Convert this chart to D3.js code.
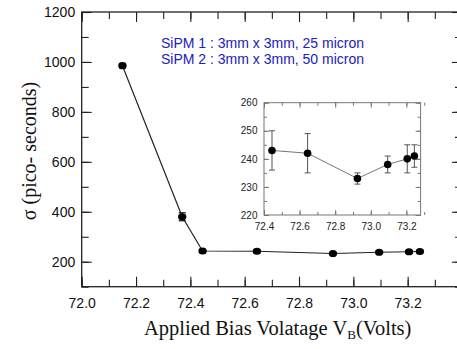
<!DOCTYPE html>
<html>
<head>
<meta charset="utf-8">
<script src="https://cdn.jsdelivr.net/npm/d3@7/dist/d3.min.js"></script>
<style>
  body { margin: 0; background: #fff; }
  svg { display: block; }
</style>
</head>
<body>
<div class="chart"></div>
<script>
// bias voltage (V) and timing resolution sigma (ps)
const biasVolts = [72.15, 72.37, 72.445, 72.645, 72.925, 73.095, 73.205, 73.245];
const sigmaPs = [985, 380, 243, 242, 233, 238, 240, 241];
const sigmaErr = [9, 16, 7, 7, 2, 3, 5, 4];

const xTickValues = [72.0, 72.2, 72.4, 72.6, 72.8, 73.0, 73.2];
const yTickValues = [200, 400, 600, 800, 1000, 1200];
const insetXTickValues = [72.4, 72.6, 72.8, 73.0, 73.2];
const insetYTickValues = [220, 230, 240, 250, 260];
const noteLines = ["SiPM 1 : 3mm x 3mm, 25 micron", "SiPM 2 : 3mm x 3mm, 50 micron"];

const width = 457, height = 349;
const sans = "'Liberation Sans', Arial, sans-serif";
const serif = "'Liberation Serif', 'Times New Roman', serif";

let data = biasVolts.map((v, i) => ({ x: v, y: sigmaPs[i], e: sigmaErr[i] }));

let svg = d3.select('div.chart').append('svg')
  .attr('width', width)
  .attr('height', height);

// main frame
let x = d3.scaleLinear().domain([72.0, 73.4]).range([81.7, 462]);
let y = d3.scaleLinear().domain([100, 1200]).range([286.7, 12]);

function frameAxes(g, xs, ys, opt) {
  let [x0, x1] = xs.range();
  let [y0, y1] = ys.range();
  let minorX = d3.range(Math.round(xs.domain()[0] / opt.xMinor), Math.round(xs.domain()[1] / opt.xMinor) + 1)
    .map(d => +(d * opt.xMinor).toFixed(3));
  let minorY = d3.range(Math.round(ys.domain()[0] / opt.yMinor), Math.round(ys.domain()[1] / opt.yMinor) + 1)
    .map(d => d * opt.yMinor);

  let styleAxis = sel => {
    sel.select('.domain').remove();
    sel.selectAll('line').attr('stroke', opt.color).attr('stroke-width', opt.tickWidth);
    sel.selectAll('text').attr('fill', opt.textColor).style('font-family', sans).style('font-size', opt.fontSize + 'px');
  };

  // minor ticks on all sides
  g.append('g').attr('transform', `translate(0,${y0})`)
    .call(d3.axisBottom(xs).tickValues(minorX).tickSize(-opt.minor).tickFormat(''))
    .call(styleAxis);
  g.append('g').attr('transform', `translate(0,${y1})`)
    .call(d3.axisTop(xs).tickValues(minorX).tickSize(-opt.minor).tickFormat(''))
    .call(styleAxis);
  g.append('g').attr('transform', `translate(${x0},0)`)
    .call(d3.axisLeft(ys).tickValues(minorY).tickSize(-opt.minor).tickFormat(''))
    .call(styleAxis);
  g.append('g').attr('transform', `translate(${x1},0)`)
    .call(d3.axisRight(ys).tickValues(minorY).tickSize(-opt.minor).tickFormat(''))
    .call(styleAxis);

  // major ticks with labels
  g.append('g').attr('transform', `translate(0,${y0})`)
    .call(d3.axisBottom(xs).tickValues(opt.xTicks).tickSize(-opt.major).tickPadding(opt.xPad).tickFormat(d3.format('.1f')))
    .call(styleAxis);
  g.append('g').attr('transform', `translate(0,${y1})`)
    .call(d3.axisTop(xs).tickValues(opt.xTicks).tickSize(-opt.major).tickFormat(''))
    .call(styleAxis);
  g.append('g').attr('transform', `translate(${x0},0)`)
    .call(d3.axisLeft(ys).tickValues(opt.yTicks).tickSize(-opt.major).tickPadding(opt.yPad).tickFormat(d3.format('d')))
    .call(styleAxis);
  g.append('g').attr('transform', `translate(${x1},0)`)
    .call(d3.axisRight(ys).tickValues(opt.yTicks).tickSize(-opt.major).tickFormat(''))
    .call(styleAxis);

  g.append('rect')
    .attr('x', x0).attr('y', y1)
    .attr('width', x1 - x0).attr('height', y0 - y1)
    .attr('fill', 'none')
    .attr('stroke', opt.color)
    .attr('stroke-width', opt.frameWidth);
}

function drawSeries(g, xs, ys, opt) {
  let line = d3.line().x(d => xs(d.x)).y(d => ys(d.y));
  g.append('path')
    .datum(opt.points)
    .attr('d', line)
    .attr('fill', 'none')
    .attr('stroke', opt.lineColor)
    .attr('stroke-width', opt.lineWidth);

  let bars = g.selectAll('g.err')
    .data(opt.points)
    .enter()
    .append('g')
    .attr('class', 'err')
    .attr('stroke', opt.errColor)
    .attr('stroke-width', opt.errWidth);
  bars.append('line')
    .attr('x1', d => xs(d.x)).attr('x2', d => xs(d.x))
    .attr('y1', d => ys(d.y - d.e)).attr('y2', d => ys(d.y + d.e));
  bars.append('line')
    .attr('x1', d => xs(d.x) - opt.cap).attr('x2', d => xs(d.x) + opt.cap)
    .attr('y1', d => ys(d.y + d.e)).attr('y2', d => ys(d.y + d.e));
  bars.append('line')
    .attr('x1', d => xs(d.x) - opt.cap).attr('x2', d => xs(d.x) + opt.cap)
    .attr('y1', d => ys(d.y - d.e)).attr('y2', d => ys(d.y - d.e));

  g.selectAll('circle.pt')
    .data(opt.points)
    .enter()
    .append('ellipse')
    .attr('cx', d => xs(d.x))
    .attr('cy', d => ys(d.y))
    .attr('rx', opt.rx)
    .attr('ry', opt.ry)
    .attr('fill', '#000');
}

let main = svg.append('g').attr('class', 'main');
frameAxes(main, x, y, {
  xMinor: 0.1, yMinor: 100, xTicks: xTickValues, yTicks: yTickValues,
  major: 10, minor: 7, xPad: 11.4, yPad: 6.5, fontSize: 14,
  color: '#222', textColor: '#111', tickWidth: 1.1, frameWidth: 1.3
});
drawSeries(main, x, y, {
  points: data, lineColor: '#222', lineWidth: 1.2,
  errColor: '#111', errWidth: 1.2, cap: 3.5, rx: 4.2, ry: 3.6
});

// note text
let note = svg.append('text')
  .attr('x', 161)
  .attr('y', 48)
  .attr('fill', '#2020c0')
  .style('font-family', sans)
  .style('font-size', '14px');
note.selectAll('tspan')
  .data(noteLines)
  .enter()
  .append('tspan')
  .attr('x', 161)
  .attr('dy', (d, i) => i === 0 ? 0 : 16.3)
  .text(d => d);

// inset
let ix = d3.scaleLinear().domain([72.4, 73.28]).range([264, 420.6]);
let iy = d3.scaleLinear().domain([220, 260]).range([215, 102.7]);
let inset = svg.append('g').attr('class', 'inset');
inset.append('rect')
  .attr('x', 264).attr('y', 102.7)
  .attr('width', 420.6 - 264).attr('height', 215 - 102.7)
  .attr('fill', '#fff');
frameAxes(inset, ix, iy, {
  xMinor: 0.1, yMinor: 5, xTicks: insetXTickValues, yTicks: insetYTickValues,
  major: 5, minor: 3, xPad: 7.8, yPad: 6.5, fontSize: 10,
  color: '#777', textColor: '#222', tickWidth: 1, frameWidth: 1
});
drawSeries(inset, ix, iy, {
  points: data.slice(2), lineColor: '#777', lineWidth: 1,
  errColor: '#555', errWidth: 1, cap: 3, rx: 3.8, ry: 3.8
});

// axis titles
svg.append('text')
  .attr('transform', 'translate(36,151) rotate(-90)')
  .attr('text-anchor', 'middle')
  .attr('fill', '#111')
  .style('font-family', serif)
  .style('font-size', '20px')
  .text('\u03c3 (pico- seconds)');

let xt = svg.append('text')
  .attr('x', 144)
  .attr('y', 335)
  .attr('fill', '#111')
  .style('font-family', serif)
  .style('font-size', '20.5px');
xt.append('tspan').text('Applied Bias Volatage V');
xt.append('tspan').attr('dy', 4).style('font-size', '13px').text('B');
xt.append('tspan').attr('dy', -4).text('(Volts)');
</script>
</body>
</html>
